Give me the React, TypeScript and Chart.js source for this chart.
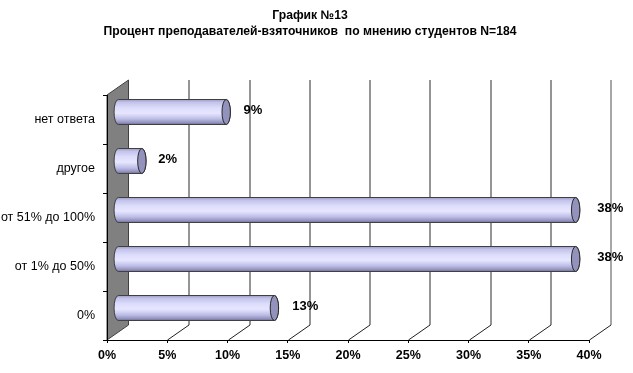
import React, { useEffect, useRef } from 'react';
import { Chart, registerables } from 'chart.js';

Chart.register(...registerables);

const titleLines = ['График №13', 'Процент преподавателей-взяточников  по мнению студентов N=184'];
const categories = ['нет ответа', 'другое', 'от 51% до 100%', 'от 1% до 50%', '0%'];
const values = [9, 2, 38, 38, 13];
const valueLabels = ['9%', '2%', '38%', '38%', '13%'];
const xMin = 0;
const xMax = 40;
const xStep = 5;

const DX = 21.5;
const DY = -15;
const FONT = '"Liberation Sans", Arial, sans-serif';

const threeD = {
  id: 'threeD',
  beforeDraw(chart: any) {
    const { ctx, chartArea: a, scales } = chart;
    const x = scales.x;
    ctx.save();
    // title
    ctx.fillStyle = '#000';
    ctx.font = `bold 12.2px ${FONT}`;
    ctx.textAlign = 'center';
    ctx.textBaseline = 'middle';
    ctx.fillText(titleLines[0], 310, 16);
    ctx.fillText(titleLines[1], 310, 32);
    // left wall
    ctx.beginPath();
    ctx.moveTo(a.left, a.top);
    ctx.lineTo(a.left + DX, a.top + DY);
    ctx.lineTo(a.left + DX, a.bottom + DY);
    ctx.lineTo(a.left, a.bottom);
    ctx.closePath();
    ctx.fillStyle = '#808080';
    ctx.fill();
    ctx.strokeStyle = '#404040';
    ctx.lineWidth = 1;
    ctx.stroke();
    // back gridlines + floor lines
    for (let v = xMin + xStep; v <= xMax; v += xStep) {
      const px = Math.round(x.getPixelForValue(v)) + 0.5;
      ctx.beginPath();
      ctx.moveTo(px + DX, a.top + DY);
      ctx.lineTo(px + DX, a.bottom + DY);
      ctx.strokeStyle = v === xMax ? '#8a8a8a' : '#2a2a2a';
      ctx.lineWidth = v === xMax ? 1.5 : 1;
      ctx.stroke();
      ctx.beginPath();
      ctx.moveTo(px + DX, a.bottom + DY);
      ctx.lineTo(px, a.bottom);
      ctx.strokeStyle = '#202020';
      ctx.lineWidth = 1;
      ctx.stroke();
    }
    ctx.restore();
  },
  beforeDatasetsDraw(chart: any) {
    chart.ctx.save();
    chart.ctx.translate(DX / 2, DY / 2);
  },
  afterDatasetsDraw(chart: any) {
    const { ctx } = chart;
    const meta = chart.getDatasetMeta(0);
    meta.data.forEach((el: any, i: number) => {
      const x0 = el.base;
      const x1 = el.x;
      const yc = el.y;
      const ry = el.height / 2;
      const rx = 4.2;
      const top = yc - ry;
      const bot = yc + ry;
      const g = ctx.createLinearGradient(0, top, 0, bot);
      g.addColorStop(0, '#9c9cc6');
      g.addColorStop(0.12, '#c4c4ec');
      g.addColorStop(0.35, '#dedefc');
      g.addColorStop(0.55, '#e6e6ff');
      g.addColorStop(0.78, '#bcbce6');
      g.addColorStop(0.92, '#9494c0');
      g.addColorStop(1, '#70709a');
      ctx.beginPath();
      ctx.ellipse(x0, yc, rx, ry, 0, Math.PI / 2, Math.PI * 1.5);
      ctx.lineTo(x1, top);
      ctx.ellipse(x1, yc, rx, ry, 0, -Math.PI / 2, Math.PI / 2);
      ctx.closePath();
      ctx.fillStyle = g;
      ctx.fill();
      ctx.strokeStyle = '#404040';
      ctx.lineWidth = 1;
      ctx.stroke();
      ctx.beginPath();
      ctx.ellipse(x1, yc, rx, ry, 0, 0, Math.PI * 2);
      ctx.fillStyle = '#9292bc';
      ctx.fill();
      ctx.strokeStyle = '#2a2a2a';
      ctx.stroke();
      // value label
      ctx.fillStyle = '#000';
      ctx.font = `bold 13px ${FONT}`;
      ctx.textAlign = 'left';
      ctx.textBaseline = 'middle';
      ctx.fillText(valueLabels[i], x1 + 16 + values[i] * 0.15, yc - 2);
    });
    ctx.restore();
  },
};

export default function App() {
  const ref = useRef<HTMLCanvasElement>(null);
  useEffect(() => {
    document.body.style.margin = '0';
    const chart = new Chart(ref.current as HTMLCanvasElement, {
      type: 'bar',
      data: {
        labels: categories,
        datasets: [
          {
            data: values,
            backgroundColor: '#d0d0f4',
            borderWidth: 0,
            categoryPercentage: 1,
            barPercentage: 0.51,
            clip: false as any,
          },
        ],
      },
      options: {
        indexAxis: 'y',
        animation: false,
        responsive: true,
        maintainAspectRatio: false,
        layout: { padding: { top: 95, right: 44, left: 0, bottom: 0 } },
        plugins: {
          legend: { display: false },
          title: { display: false },
          tooltip: { enabled: false },
        },
        scales: {
          x: {
            type: 'linear',
            min: xMin,
            max: xMax,
            ticks: {
              stepSize: xStep,
              callback: (v: any) => v + '%',
              font: { family: FONT, size: 12.5, weight: 'bold' },
              color: '#000',
              padding: 5,
            },
            grid: { display: true, drawOnChartArea: false, drawTicks: true, tickLength: 3, color: '#000' },
            border: { display: true, color: '#000' },
            afterFit: (s: any) => {
              s.height = 33;
            },
          },
          y: {
            type: 'category',
            ticks: {
              font: { family: FONT, size: 12.5 },
              color: '#000',
              padding: 8,
            },
            grid: { display: true, drawOnChartArea: false, drawTicks: true, tickLength: 4, offset: true, color: '#000' },
            border: { display: true, color: '#000' },
            afterFit: (s: any) => {
              s.width = 107;
            },
          },
        },
      },
      plugins: [threeD],
    });
    return () => chart.destroy();
  }, []);
  return (
    <div style={{ width: 633, height: 373, position: 'relative' }}>
      <canvas ref={ref} />
    </div>
  );
}
